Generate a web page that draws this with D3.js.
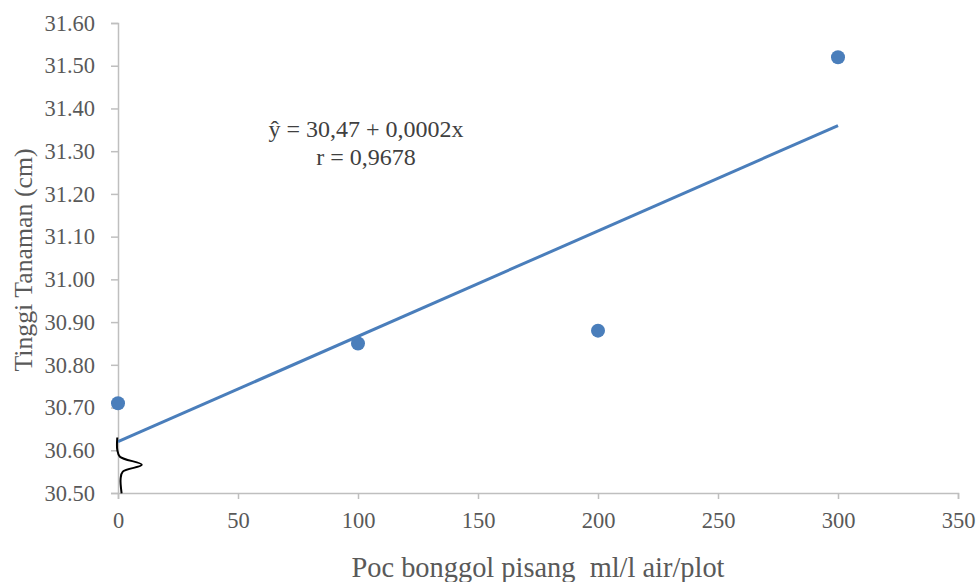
<!DOCTYPE html>
<html>
<head>
<meta charset="utf-8">
<script src="https://cdn.jsdelivr.net/npm/d3@7"></script>
<style>
  body { margin: 0; background: #fff; }
  svg text { font-family: "Liberation Serif", "Times New Roman", serif; }
</style>
</head>
<body>
<div id="chart-container"></div>
<script>
// data
const dosis = [0, 100, 200, 300];
const tinggi = [30.71, 30.85, 30.88, 31.52];
const trendX = [0, 300];
const trendY = [30.62, 31.36];
const xTicks = [0, 50, 100, 150, 200, 250, 300, 350];
const yTicks = [30.5, 30.6, 30.7, 30.8, 30.9, 31.0, 31.1, 31.2, 31.3, 31.4, 31.5, 31.6];
// axis break squiggle (data units)
const breakX = [-0.3, -0.3, 0.8, 9.9, 2.0, 1.1, 1.5];
const breakY = [30.630, 30.601, 30.585, 30.566, 30.550, 30.534, 30.499];

const WIDTH = 979, HEIGHT = 582;
const margin = {top: 23, right: 21, bottom: 89, left: 118};
const BLUE = '#4a7ebb';
const GREY = '#bfbfbf';
const TXT = '#595959';
const SERIF = '"Liberation Serif", "Times New Roman", serif';

const svg = d3.select('#chart-container')
  .append('svg')
    .attr('width', WIDTH)
    .attr('height', HEIGHT);

const escalaX = d3.scaleLinear()
  .domain([0, 350])
  .range([margin.left, WIDTH - margin.right]);

const escalaY = d3.scaleLinear()
  .domain([30.5, 31.6])
  .range([HEIGHT - margin.bottom, margin.top]);

// y axis
const yAxis = svg.append('g')
  .attr('transform', `translate(${margin.left}, 0)`)
  .call(d3.axisLeft(escalaY).tickValues(yTicks).tickFormat(d3.format('.2f')).tickSizeOuter(0).tickSize(7).tickPadding(16));

// x axis
const xAxis = svg.append('g')
  .attr('transform', `translate(0, ${HEIGHT - margin.bottom})`)
  .call(d3.axisBottom(escalaX).tickValues(xTicks).tickSizeOuter(0).tickSize(6).tickPadding(13));

[yAxis, xAxis].forEach(ax => {
  ax.attr('font-family', SERIF).attr('font-size', 22.5);
  ax.select('.domain').attr('stroke', GREY).attr('stroke-width', 1.5);
  ax.selectAll('.tick line').attr('stroke', GREY).attr('stroke-width', 1.5);
  ax.selectAll('.tick text').attr('fill', TXT).style('font-family', SERIF);
});

// trend line
const puntosTrend = trendX.map((x, i) => ({x: x, y: trendY[i]}));
svg.append('path')
  .datum(puntosTrend)
  .attr('d', d3.line().x(d => escalaX(d.x)).y(d => escalaY(d.y)))
  .attr('fill', 'none')
  .attr('stroke', BLUE)
  .attr('stroke-width', 3);

// points
const datos = dosis.map((x, i) => ({x: x, y: tinggi[i]}));
svg.selectAll('circle.punto')
  .data(datos)
  .join('circle')
    .attr('class', 'punto')
    .attr('cx', d => escalaX(d.x))
    .attr('cy', d => escalaY(d.y))
    .attr('r', 7)
    .attr('fill', BLUE);

// axis break mark
const puntosBreak = breakX.map((x, i) => ({x: x, y: breakY[i]}));
svg.append('path')
  .datum(puntosBreak)
  .attr('d', d3.line().curve(d3.curveCatmullRom).x(d => escalaX(d.x)).y(d => escalaY(d.y)))
  .attr('fill', 'none')
  .attr('stroke', '#000')
  .attr('stroke-width', 2);

// equation
const eq = svg.append('text')
  .attr('x', 366)
  .attr('y', 137)
  .attr('text-anchor', 'middle')
  .attr('fill', '#404040')
  .attr('font-family', SERIF)
  .attr('font-size', 24);
eq.append('tspan').attr('x', 366).text('ŷ = 30,47 + 0,0002x');
eq.append('tspan').attr('x', 366).attr('dy', 27.5).text('r = 0,9678');

// axis titles
svg.append('text')
  .attr('transform', `translate(32, 260) rotate(-90)`)
  .attr('text-anchor', 'middle')
  .attr('fill', TXT)
  .attr('font-family', SERIF)
  .attr('font-size', 25.8)
  .text('Tinggi Tanaman (cm)');

svg.append('text')
  .attr('x', 538)
  .attr('y', 577)
  .attr('text-anchor', 'middle')
  .attr('fill', TXT)
  .attr('font-family', SERIF)
  .attr('font-size', 28.4)
  .attr('xml:space', 'preserve')
  .style('white-space', 'pre')
  .text('Poc bonggol pisang  ml/l air/plot');
</script>
</body>
</html>
